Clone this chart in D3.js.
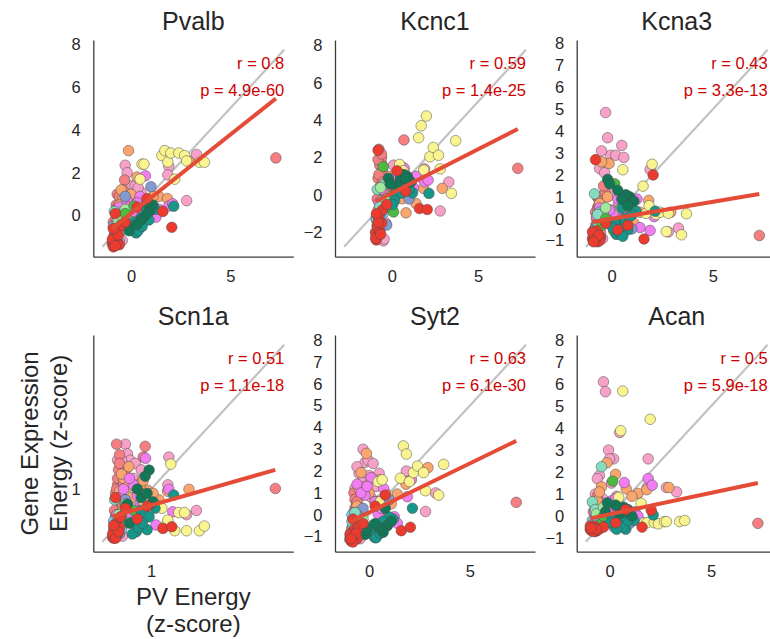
<!DOCTYPE html>
<html>
<head>
<meta charset="utf-8">
<script src="https://cdn.jsdelivr.net/npm/d3@7"></script>
<style>
  body { margin: 0; background: #fff; }
  svg { display: block; font-family: "Liberation Sans", Arial, sans-serif; }
</style>
</head>
<body>
<svg id="chart" width="770" height="639"></svg>
<script>
// genes and stats (one panel each)
const genes = ["Pvalb", "Kcnc1", "Kcna3", "Scn1a", "Syt2", "Acan"];
const rValues = ["0.8", "0.59", "0.43", "0.51", "0.63", "0.5"];
const pValues = ["4.9e-60", "1.4e-25", "3.3e-13", "1.1e-18", "6.1e-30", "5.9e-18"];

// fitted regression lines
const slopes = [0.733, 0.47, 0.155, 0.264, 0.449, 0.195];
const intercepts = [0.106, 0.10, 0.0, -0.026, 0.106, 0.08];

// identity line ends (data units), axes autoscale around it
const diagLo = [-1.45, -2.77, -1.28, -1.47, -1.24, -1.17];
const diagHi = [7.72, 7.77, 7.71, 7.75, 7.78, 7.78];

const xTicks = [[0, 5], [0, 5], [0, 5], [1], [0, 5], [0, 5]];
const yTicks = [
  [0, 2, 4, 6, 8],
  [-2, 0, 2, 4, 6, 8],
  [-1, 0, 1, 2, 3, 4, 5, 6, 7, 8],
  [1],
  [-1, 0, 1, 2, 3, 4, 5, 6, 7, 8],
  [-1, 0, 1, 2, 3, 4, 5, 6, 7, 8]
];

// region groups, in drawing order
const regionColors = ["#f7a1c8", "#f47e80", "#f9a56d", "#f27df0", "#f9f48f", "#7fc5ef",
                      "#8499cf", "#86dcbd", "#a0e89c", "#4dba3f", "#17968a", "#127756", "#eb3b2f"];
const regionCounts = [20, 22, 14, 14, 13, 6, 4, 3, 2, 5, 14, 8, 17];

// PV energy (x), shared by all panels; one line per region group
const pvEnergy = [
  -0.3, -0.2, -0.05, 0.2, 0.5, -0.5, -0.45, 1.9, 1.85, 3.3, 2.8, -0.7, 0.1, -0.8, -0.6, -0.35, 0.0, 0.35, -0.75, 0.6,
  7.3, -0.75, -0.6, -0.7, -0.55, -0.8, -0.65, -0.85, -0.7, -0.33, 0.7, 0.6, -0.9, -0.45, -0.8, -0.75, -0.65, -0.6, -0.85, -0.5, -0.7, -0.4,
  -0.13, 1.4, 1.83, 2.92, 0.82, -0.4, 0.0, -0.6, 0.45, 0.3, -0.2, 0.6, 1.1, -0.5,
  0.72, 1.9, 1.25, 0.45, -0.6, -0.2, 1.4, 0.1, -0.75, 2.1, -0.4, 0.3, 0.6, -0.1,
  0.45, 0.55, 0.65, 1.55, 1.7, 1.85, 2.0, 2.2, 2.4, 2.7, 2.8, 3.45, 3.7,
  -0.85, -0.7, -0.5, -0.9, -0.8, -0.6,
  1.0, -0.3, 0.22, -0.6,
  -0.85, -0.4, -0.7,
  -0.65, -0.3,
  0.1, 0.15, -0.5, 0.3, -0.3,
  2.15, 1.2, 0.4, 0.6, 0.8, 1.0, 0.25, 0.5, 0.7, 0.15, 0.05, 0.35, 0.9, 0.55,
  0.9, 0.7, 0.5, -0.2, 1.1, 0.3, -0.1, 0.8,
  -0.95, -0.9, -0.85, -0.75, -0.7, -0.55, -0.8, -0.6, 1.6, 2.05, 0.8, 0.3, -0.3, -0.95, -0.8, -0.65, -0.9
];

const yPvalb = [
  2.35, 2.0, 1.4, 1.4, 1.1, 0.6, -1.15, 2.3, 1.9, 2.85, 0.7, 0.3, 0.9, -0.2, 0.3, 0.5, 0.8, 1.3, -0.8, 0.2,
  2.69, 0.5, 0.2, 1.0, -0.3, -0.6, 0.1, -0.9, -0.2, 1.66, 0.6, 0.3, -0.3, 0.7, -0.4, 0.3, -0.1, 0.9, -1.1, 0.2, -0.7, 1.2,
  3.03, 0.9, 0.8, 2.53, 0.6, 0.8, 1.0, 0.5, 0.3, 1.8, 0.1, 0.4, 0.9, 1.2,
  1.86, 0.45, -0.07, 0.9, 0.4, 0.7, 0.3, 0.2, -0.3, 0.55, 0.2, 0.6, 0.1, 0.4,
  1.7, 2.4, 2.4, 2.8, 3.03, 2.5, 2.92, 1.7, 2.92, 2.8, 2.55, 2.49, 2.49,
  -1.1, -0.9, -0.7, -0.5, -0.8, -1.2,
  1.35, 0.9, -0.77, 0.0,
  0.2, -0.1, -0.4,
  -0.2, 0.3,
  -0.6, 0.45, -0.4, -0.3, 0.1,
  0.44, 0.3, -0.6, -0.3, 0.0, 0.3, -0.8, -0.1, 0.4, -0.3, -0.5, -0.7, -0.2, -0.5,
  0.2, 0.0, -0.2, -0.5, 0.5, -0.4, -0.7, 0.6,
  -1.3, -1.45, -1.0, -0.7, -1.2, -0.5, 0.1, -1.35, 0.2, -0.54, 0.8, 0.4, -0.3, -1.1, -1.4, -0.9, -0.6
];

const yKcnc1 = [
  0.3, 0.9, -0.4, 1.1, 0.5, -2.45, -2.35, 1.4, 1.2, 0.7, -0.85, 0.2, 1.6, -0.8, 1.7, -1.5, 0.6, 0.9, -2.0, 0.3,
  1.43, 2.45, 2.0, 1.6, 1.3, 0.9, 0.5, -0.2, -0.9, 0.1, 2.95, 1.5, -1.3, -0.5, 1.9, 1.1, -0.6, 2.2, -1.1, 0.7, -1.6, 0.4,
  1.0, -0.45, 0.36, 0.36, -0.95, 0.0, 0.8, -0.3, 0.5, 0.2, 0.7, -0.2, 0.5, -0.8,
  1.43, 0.71, 0.4, 0.71, 0.3, -0.3, 1.0, 0.9, -0.4, 0.8, -0.7, 0.6, 1.2, -0.1,
  1.64, 0.9, 1.3, 3.07, 3.71, 1.34, 4.23, 2.05, 2.55, 2.13, 1.4, 0.09, 2.91,
  -1.6, -1.8, -1.0, -1.3, -1.1, -0.3,
  -0.21, -1.6, 0.1, -0.9,
  0.3, 0.6, -0.6,
  0.4, -0.2,
  -0.9, 0.0, 1.52, 0.3, -0.6,
  0.09, 0.12, 0.5, 0.8, 0.6, 0.3, 0.0, 1.0, 0.2, -0.3, -0.5, 0.4, 0.9, 0.1,
  1.0, 1.1, 0.8, 0.9, 0.7, 0.5, 0.6, 0.9,
  -2.0, -2.4, -1.7, -1.2, -1.95, -0.8, 2.4, -1.5, -0.72, -0.77, 0.2, 1.3, -0.5, -2.3, -1.45, -2.1, -1.0
];

const yKcna3 = [
  4.85, 3.7, 2.9, 2.9, 3.35, 3.1, -0.9, 2.25, 0.3, -0.42, -0.6, 1.0, 1.2, -0.3, 2.3, 2.1, 0.3, 0.7, -0.3, 2.8,
  -0.76, 0.0, -0.3, 1.0, -0.6, 0.3, -0.8, -0.5, 0.5, 1.2, 0.9, -0.2, -0.7, 0.2, -0.9, -0.4, 0.6, 0.8, -1.0, -0.2, 0.1, 1.5,
  2.52, 0.3, 0.84, 0.3, 0.1, -0.2, 0.4, 0.7, -0.1, 0.2, 1.0, 0.6, -0.2, 2.6,
  1.07, -0.53, 0.9, 0.2, 0.5, -0.2, -0.4, 0.3, 0.1, 0.1, 0.0, 0.9, -0.3, 0.4,
  0.5, 2.24, 0.9, 1.49, 0.25, 0.6, 2.49, 0.2, 0.3, -0.58, 0.25, -0.73, 0.23,
  -0.5, -0.2, 0.1, -0.6, -0.8, 0.3,
  -0.46, 0.0, -0.7, -0.8,
  1.14, 0.3, 0.2,
  -0.38, 0.5,
  -0.54, 1.6, -0.3, -0.6, 0.0,
  0.35, 0.35, -0.3, 0.0, -0.5, 0.2, -0.7, 0.5, -0.1, -0.2, -0.4, -0.6, 0.1, -0.8,
  1.0, 1.1, 0.9, 1.8, 0.8, 1.3, 1.6, 0.6,
  -0.9, -1.0, -0.7, -0.55, -1.05, -0.85, 2.7, -1.0, -0.92, 2.0, -0.3, -0.5, -0.2, -0.6, -0.95, -0.75, -1.05
];

const yScn1a = [
  3.1, 2.65, 2.35, 2.2, 1.9, 2.35, -1.2, 2.5, 1.2, 0.0, -0.2, 2.35, 1.5, -0.3, 1.9, 1.6, 0.5, 1.2, -0.8, 1.5,
  1.03, 3.1, 2.6, 1.2, 0.4, 0.8, -0.5, 0.0, 1.5, 1.8, 3.0, 2.5, -0.9, 0.2, -0.3, 1.0, 1.9, 2.2, -1.1, 0.7, -0.6, 1.3,
  2.05, 0.5, 0.9, 0.99, 0.95, 1.5, 0.6, 0.9, 1.2, 0.95, 1.1, 1.4, 0.8, 1.7,
  2.44, 0.99, -0.68, 0.2, 0.6, -0.1, 0.2, 1.2, -0.2, -0.06, 1.0, 0.7, 0.3, 1.5,
  0.77, 0.7, 0.4, 0.1, -0.73, -0.45, 2.17, -0.95, -0.1, -0.1, -0.95, -0.95, -0.73,
  -0.8, -1.0, -0.9, -0.5, -1.2, -0.4,
  0.3, 0.5, -0.6, -1.1,
  0.5, 0.0, -0.3,
  -0.2, 0.3,
  -0.6, 0.0, -0.3, -0.8, 0.2,
  0.72, 0.1, -0.7, -0.4, -0.9, 0.3, -1.0, 0.0, -0.2, -0.5, -1.1, -0.8, -0.3, -0.6,
  1.89, 1.6, 0.6, 0.3, 0.4, 1.0, -0.6, 0.8,
  -1.25, -1.3, -0.9, -0.6, -1.1, -0.3, 0.6, -0.8, -0.84, -0.76, 0.2, -0.4, 0.1, -1.1, -1.3, -1.0, -0.7
];

const ySyt2 = [
  3.0, 2.4, 2.5, 2.35, 1.9, 1.9, -1.1, 1.7, 2.0, 1.0, 0.15, 1.2, 0.8, -0.9, 2.2, 1.5, 1.8, 1.3, -0.9, 0.7,
  0.57, 1.0, 0.5, 0.3, -0.5, -0.2, -1.0, -0.6, 0.7, 0.9, 0.4, -0.3, -0.8, 0.1, -0.8, -0.4, 0.2, 0.6, -1.0, -0.1, -0.7, 1.1,
  2.81, 0.95, 1.4, 2.16, 1.0, 1.93, 1.0, 0.4, 1.6, 0.6, 1.3, 0.2, 0.5, 1.2,
  1.2, 0.83, -0.09, 0.04, 1.4, 0.9, -0.39, 1.7, 0.1, 1.6, 1.0, 0.6, 0.3, 1.3,
  1.52, 0.6, 1.6, 1.67, 3.15, 2.78, 1.52, 1.93, 2.23, 1.93, 1.1, 0.9, 2.31,
  0.0, -0.7, -0.9, -1.0, -0.5, 0.1,
  0.7, 0.3, -0.8, 0.0,
  -0.3, -0.5, 0.1,
  -0.4, -0.2,
  -0.77, -0.5, -0.9, -1.05, -0.6,
  0.3, -0.2, -0.95, -0.7, -0.4, -0.1, -1.0, -0.5, -0.3, -0.6, -0.7, -1.05, -0.5, -0.85,
  -0.5, -0.8, -0.6, -0.9, -0.3, -0.4, -0.7, 0.3,
  -1.1, -1.2, -0.9, -0.7, -1.05, -0.6, -0.2, -1.1, -0.73, -0.57, 0.9, 0.4, -0.4, -0.9, -1.25, -0.85, -1.1
];

const yAcan = [
  6.1, 5.65, 3.0, 2.6, 3.8, 1.85, -0.55, 2.6, 1.3, 1.1, 1.3, 1.0, 1.5, 0.2, 1.7, 0.8, 2.6, 0.9, -0.4, 0.4,
  -0.33, -0.4, 0.1, -0.2, -0.5, 0.6, -0.6, -0.35, 0.3, 0.0, 0.2, -0.1, -0.5, 0.5, -0.55, -0.2, 0.2, 0.9, -0.6, -0.3, 0.0, 0.6,
  2.42, 1.03, 1.2, 1.3, 1.24, 1.33, 0.3, 0.7, 0.0, 1.9, 0.5, 0.2, 0.9, 1.1,
  1.52, 1.71, 0.2, 0.3, 0.2, 0.35, 0.0, 0.7, 0.2, 1.4, -0.1, 0.8, 0.4, 0.2,
  0.85, 3.88, 5.68, 0.58, -0.3, -0.3, 4.4, -0.3, -0.35, -0.25, -0.25, -0.25, -0.2,
  -0.2, -0.1, -0.4, -0.6, -0.6, -0.3,
  -0.33, 0.0, -0.5, -0.6,
  0.65, 2.24, 0.3,
  0.1, 0.4,
  -0.2, 1.59, -0.4, -0.3, 0.0,
  0.05, -0.2, -0.5, -0.3, -0.6, 0.0, -0.4, 0.1, -0.5, -0.1, -0.3, -0.6, -0.2, 0.0,
  0.3, 0.4, 0.1, 0.2, 0.0, 0.5, 0.6, 0.2,
  -0.6, -0.65, -0.5, -0.45, -0.7, -0.6, -0.55, -0.65, -0.5, 0.27, 0.3, -0.3, -0.5, -0.45, -0.7, -0.6, -0.55
];

const geneValues = [yPvalb, yKcnc1, yKcna3, yScn1a, ySyt2, yAcan];

// region index for every point
const region = [];
regionCounts.forEach((n, k) => { for (let i = 0; i < n; i++) region.push(k); });
geneValues.forEach((v, i) => {
  if (v.length != pvEnergy.length) console.log("length mismatch", genes[i], v.length, pvEnergy.length);
});
if (region.length != pvEnergy.length) console.log("region mismatch", region.length, pvEnergy.length);

// layout
const colLeft = [93.3, 335, 576.7];
const rowTop = [40, 335];
const axW = 200, axH = 216.7;
const textColor = "#262626";
const fmt = d => d < 0 ? "\u2212" + Math.abs(d) : String(d);

const svg = d3.select("#chart");

genes.forEach((gene, gi) => {
  const left = colLeft[gi % 3];
  const top = rowTop[Math.floor(gi / 3)];
  const lo = diagLo[gi], hi = diagHi[gi];
  const pad = 0.05 * (hi - lo);

  const x = d3.scaleLinear().domain([lo - pad, hi + pad]).range([left, left + axW]);
  const y = d3.scaleLinear().domain([lo - pad, hi + pad]).range([top + axH, top]);

  const g = svg.append("g").attr("class", "panel");

  // identity line
  g.append("line")
    .attr("x1", x(lo)).attr("y1", y(lo))
    .attr("x2", x(hi)).attr("y2", y(hi))
    .attr("stroke", "#c2c2c2")
    .attr("stroke-width", 2.2);

  // points
  const pts = pvEnergy.map((px, i) => ({x: px, y: geneValues[gi][i], r: region[i]}));
  g.selectAll("circle")
    .data(pts)
    .join("circle")
    .attr("cx", d => x(d.x))
    .attr("cy", d => y(d.y))
    .attr("r", 5.3)
    .attr("fill", d => regionColors[d.r])
    .attr("stroke", "#4a4a4a")
    .attr("stroke-width", 0.5);

  // regression line over the data range
  const xmin = d3.min(pvEnergy), xmax = d3.max(pvEnergy);
  g.append("line")
    .attr("x1", x(xmin)).attr("y1", y(intercepts[gi] + slopes[gi] * xmin))
    .attr("x2", x(xmax)).attr("y2", y(intercepts[gi] + slopes[gi] * xmax))
    .attr("stroke", "#e44c38")
    .attr("stroke-width", 4);

  // axes
  const xAxis = d3.axisBottom(x).tickValues(xTicks[gi]).tickFormat(fmt)
    .tickSize(0).tickSizeOuter(0).tickPadding(14);
  const yAxis = d3.axisLeft(y).tickValues(yTicks[gi]).tickFormat(fmt)
    .tickSize(0).tickSizeOuter(0).tickPadding(12.5);

  const gx = g.append("g").attr("transform", "translate(0," + (top + axH) + ")").call(xAxis);
  const gy = g.append("g").attr("transform", "translate(" + left + ",0)").call(yAxis);
  [gx, gy].forEach(a => {
    a.select(".domain").attr("stroke", "#3a3a3a").attr("stroke-width", 1.3);
    a.selectAll("text").attr("font-size", 16.5).attr("fill", textColor)
      .attr("font-family", "Liberation Sans, Arial, sans-serif");
  });

  // title
  g.append("text")
    .attr("x", left + axW / 2).attr("y", top - 10.5)
    .attr("text-anchor", "middle")
    .attr("font-size", 25)
    .attr("fill", textColor)
    .text(gene);

  // stats
  g.append("text")
    .attr("x", left + 0.955 * axW).attr("y", top + 28.5)
    .attr("text-anchor", "end").attr("font-size", 16.5).attr("fill", "#cc0000")
    .text("r = " + rValues[gi]);
  g.append("text")
    .attr("x", left + 0.955 * axW).attr("y", top + 55.5)
    .attr("text-anchor", "end").attr("font-size", 16.5).attr("fill", "#cc0000")
    .text("p = " + pValues[gi]);

  // axis labels on the lower-left panel
  if (gi == 3) {
    const cy = top + axH / 2;
    const yl = svg.append("text")
      .attr("transform", "translate(38.3," + cy + ") rotate(-90)")
      .attr("text-anchor", "middle").attr("font-size", 24).attr("fill", textColor);
    yl.append("tspan").attr("x", 0).attr("y", 0).text("Gene Expression");
    yl.append("tspan").attr("x", 0).attr("y", 28.3).text("Energy (z-score)");

    const cx = left + axW / 2;
    svg.append("text").attr("x", cx).attr("y", top + axH + 53.5)
      .attr("text-anchor", "middle").attr("font-size", 24).attr("fill", textColor)
      .text("PV Energy");
    svg.append("text").attr("x", cx).attr("y", top + axH + 80)
      .attr("text-anchor", "middle").attr("font-size", 24).attr("fill", textColor)
      .text("(z-score)");
  }
});
</script>
</body>
</html>
